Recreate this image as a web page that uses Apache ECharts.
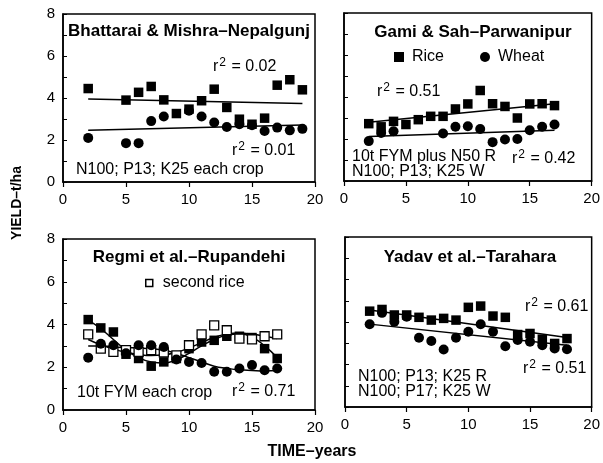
<!DOCTYPE html>
<html><head><meta charset="utf-8">
<script src="https://cdn.jsdelivr.net/npm/echarts@6/dist/echarts.min.js"></script>
<style>html,body{margin:0;padding:0;background:#fff}#c{width:603px;height:463px}</style>
</head><body><div id="c"></div>
<script>
const FONT = "'Liberation Sans', Arial, Helvetica, sans-serif";

// ---- Panel 1: Bhattarai & Mishra – Nepalgunj ----
const bhRiceYears = [2,5,6,7,8,9,10,11,12,13,14,15,16,17,18,19];
const bhRice      = [4.45,3.9,4.27,4.55,3.91,3.26,3.47,3.87,4.42,3.55,2.99,2.75,3.04,4.61,4.87,4.39];
const bhWheatYears = [2,5,6,7,8,10,11,12,13,14,15,16,17,18,19];
const bhWheat      = [2.1,1.85,1.85,2.9,3.12,3.39,3.12,2.83,2.62,2.75,2.7,2.43,2.59,2.46,2.53];
const bhFitYears = [2,19];
const bhRiceFit  = [3.95,3.74];
const bhWheatFit = [2.47,2.72];

// ---- Panel 2: Gami & Sah – Parwanipur ----
const gsRiceYears = [2,3,4,5,6,7,8,9,10,11,12,13,14,15,16,17];
const gsRice      = [2.73,2.58,2.84,2.69,2.92,3.08,3.08,3.43,3.67,4.31,3.68,3.55,3.0,3.67,3.68,3.59];
const gsWheatYears = [2,3,4,8,9,10,11,12,13,14,15,16,17];
const gsWheat      = [1.9,2.29,2.37,2.26,2.58,2.61,2.48,1.85,1.98,2.0,2.42,2.58,2.69];
const gsFitYears = [2,17];
const gsRiceFit  = [2.8,3.68];
const gsWheatFit = [2.12,2.42];

// ---- Panel 3: Regmi et al. – Rupandehi ----
const rgYears  = [2,3,4,5,6,7,8,9,10,11,12,13,14,15,16,17];
const rgRice1  = [4.23,3.84,3.65,2.61,2.41,2.05,2.25,2.41,2.87,3.18,3.26,3.45,3.45,3.39,2.87,2.41];
const rgRice2  = [3.54,2.87,2.72,2.8,2.72,2.8,2.7,2.56,3.03,3.54,3.96,3.73,3.34,3.3,3.45,3.54];
const rgWheat  = [2.45,3.1,3.03,2.65,3.03,3.03,2.95,2.36,2.25,2.2,1.79,1.79,1.94,2.1,1.86,1.94];
const rgFit1   = [4.2,3.8,3.3,2.8,2.45,2.25,2.2,2.35,2.65,3.0,3.3,3.5,3.55,3.4,3.0,2.45];
const rgFit2   = [3.3,3.05,2.85,2.7,2.6,2.55,2.58,2.7,2.9,3.15,3.4,3.55,3.6,3.55,3.45,3.35];
const rgFitW   = [3.0,3.0,2.95,2.92,2.9,2.87,2.8,2.65,2.45,2.25,2.05,1.95,1.88,1.85,1.83,1.85];

// ---- Panel 4: Yadav et al. – Tarahara ----
const ydYears = [2,3,4,5,6,7,8,9,10,11,12,13,14,15,16,17,18];
const ydRice  = [4.51,4.59,4.33,4.33,4.22,4.09,4.17,4.09,4.69,4.75,4.28,4.22,3.41,3.46,3.19,2.99,3.22];
const ydWheat = [3.89,4.43,4.01,4.25,3.26,3.11,2.71,3.26,3.54,3.89,3.54,2.86,3.15,3.07,2.91,2.75,2.72];
const ydFitYears = [2,18];
const ydRiceFit  = [4.56,3.27];
const ydWheatFit = [3.9,2.91];

const xTickLabels = [0,5,10,15,20];
const yTickLabels = [0,2,4,6,8];

const zip = (xs, ys) => xs.map((x, i) => [x, ys[i]]);

const grids = [
  {left: 63, top: 14, width: 252, height: 168},
  {left: 344, top: 13, width: 253, height: 168},
  {left: 63, top: 239, width: 252, height: 171},
  {left: 345, top: 237, width: 252, height: 170}
].map(g => Object.assign(g, {show: true, borderColor: '#000', borderWidth: 1.5, backgroundColor: 'transparent'}));

const xAxes = grids.map((g, i) => ({
  type: 'value', gridIndex: i, min: 0, max: 20, interval: 5,
  axisLine: {show: true, onZero: false, lineStyle: {color: '#000', width: 1.5}},
  axisTick: {show: true, inside: false, length: 5, lineStyle: {color: '#000', width: 1.2}},
  axisLabel: {fontSize: 15, color: '#000', margin: 10, fontFamily: FONT,
    formatter: v => xTickLabels.includes(v) ? String(v) : ''},
  splitLine: {show: false}
}));
const yAxes = grids.map((g, i) => ({
  type: 'value', gridIndex: i, min: 0, max: 8, interval: 1,
  axisLine: {show: true, onZero: false, lineStyle: {color: '#000', width: 1.5}},
  axisTick: {show: true, inside: true, length: 4, lineStyle: {color: '#000', width: 1}},
  axisLabel: {show: i % 2 === 0, fontSize: 15, color: '#000', margin: 8, fontFamily: FONT,
    formatter: v => yTickLabels.includes(v) ? String(v) : ''},
  splitLine: {show: false}
}));

const filledSq = {symbol: 'rect', symbolSize: 9.5, itemStyle: {color: '#000', opacity: 1}};
const filledCi = {symbol: 'circle', symbolSize: 10, itemStyle: {color: '#000', opacity: 1}};
const openSq = {symbol: 'rect', symbolSize: 9, itemStyle: {color: '#fff', borderColor: '#000', borderWidth: 1.3, opacity: 1}};

function scatter(name, idx, data, style) {
  return Object.assign({type: 'scatter', name, xAxisIndex: idx, yAxisIndex: idx, data, z: 3, silent: true}, style);
}
function fitLine(name, idx, data, smooth) {
  return {type: 'line', name, xAxisIndex: idx, yAxisIndex: idx, data, showSymbol: false, symbol: 'none',
    smooth: smooth || false, lineStyle: {color: '#000', width: 1.5}, z: 2, silent: true};
}

const series = [
  fitLine('bh rice fit', 0, zip(bhFitYears, bhRiceFit)),
  fitLine('bh wheat fit', 0, zip(bhFitYears, bhWheatFit)),
  scatter('bh rice', 0, zip(bhRiceYears, bhRice), filledSq),
  scatter('bh wheat', 0, zip(bhWheatYears, bhWheat), filledCi),

  fitLine('gs rice fit', 1, zip(gsFitYears, gsRiceFit)),
  fitLine('gs wheat fit', 1, zip(gsFitYears, gsWheatFit)),
  scatter('Rice', 1, zip(gsRiceYears, gsRice), filledSq),
  scatter('Wheat', 1, zip(gsWheatYears, gsWheat), filledCi),

  fitLine('rg fit1', 2, zip(rgYears, rgFit1), 0.5),
  fitLine('rg fit2', 2, zip(rgYears, rgFit2), 0.5),
  fitLine('rg fitw', 2, zip(rgYears, rgFitW), 0.5),
  scatter('rg rice', 2, zip(rgYears, rgRice1), filledSq),
  scatter('second rice', 2, zip(rgYears, rgRice2), openSq),
  scatter('rg wheat', 2, zip(rgYears, rgWheat), filledCi),

  fitLine('yd rice fit', 3, zip(ydFitYears, ydRiceFit)),
  fitLine('yd wheat fit', 3, zip(ydFitYears, ydWheatFit)),
  scatter('yd rice', 3, zip(ydYears, ydRice), filledSq),
  scatter('yd wheat', 3, zip(ydYears, ydWheat), filledCi)
];

function txt(x, y, text, opts) {
  return {type: 'text', x, y, z: 10, silent: true, style: Object.assign({
    text, fill: '#000', fontFamily: FONT, fontSize: 16, align: 'left', verticalAlign: 'middle'
  }, opts || {})};
}
function rsq(x, y, val) {
  return txt(x, y, 'r{s|2} = ' + val, {rich: {s: {fontSize: 12, fontFamily: FONT, fill: '#000', padding: [0, 1, 8, 1]}}});
}
const titleStyle = {fontWeight: 'bold', fontSize: 17, align: 'center'};

const graphic = [
  txt(189, 31, 'Bhattarai & Mishra–Nepalgunj', titleStyle),
  rsq(213, 67, '0.02'),
  rsq(232, 151, '0.01'),
  txt(76, 170, 'N100; P13; K25 each crop'),

  txt(473, 32, 'Gami & Sah–Parwanipur', titleStyle),
  rsq(377, 92, '0.51'),
  txt(352, 157, '10t FYM plus N50 R'),
  txt(352, 172, 'N100; P13; K25 W'),
  rsq(512, 159, '0.42'),

  txt(189, 257, 'Regmi et al.–Rupandehi', titleStyle),
  txt(77, 393, '10t FYM each crop'),
  rsq(232, 392, '0.71'),

  txt(470, 257, 'Yadav et al.–Tarahara', titleStyle),
  rsq(525, 307, '0.61'),
  rsq(523, 369, '0.51'),
  txt(358, 377, 'N100; P13; K25 R'),
  txt(358, 392, 'N100; P17; K25 W'),

  txt(17, 203, 'YIELD–t/ha', {fontWeight: 'bold', fontSize: 14, align: 'center'}),
  txt(312, 452, 'TIME–years', {fontWeight: 'bold', fontSize: 16, align: 'center'})
];
graphic[graphic.length - 2].rotation = Math.PI / 2;

const legend = [
  {data: [{name: 'Rice', icon: 'rect', itemStyle: {color: '#000', opacity: 1}},
          {name: 'Wheat', icon: 'circle', itemStyle: {color: '#000', opacity: 1}}],
   left: 389, top: 44,
   itemWidth: 10, itemHeight: 10, itemGap: 36, selectedMode: false,
   textStyle: {fontSize: 16, color: '#000', fontFamily: FONT, padding: [0, 0, 0, 3]}},
  {data: [{name: 'second rice', icon: 'rect', itemStyle: {color: '#fff', borderColor: '#000', borderWidth: 1.5, opacity: 1}}],
   left: 140, top: 270, itemWidth: 7, itemHeight: 7, selectedMode: false,
   textStyle: {fontSize: 16, color: '#000', fontFamily: FONT, padding: [0, 0, 0, 5]}}
];

const chart = echarts.init(document.getElementById('c'), null, {renderer: 'canvas'});
chart.setOption({
  animation: false,
  backgroundColor: '#fff',
  grid: grids, xAxis: xAxes, yAxis: yAxes,
  legend, series, graphic
});
</script>
</body></html>
